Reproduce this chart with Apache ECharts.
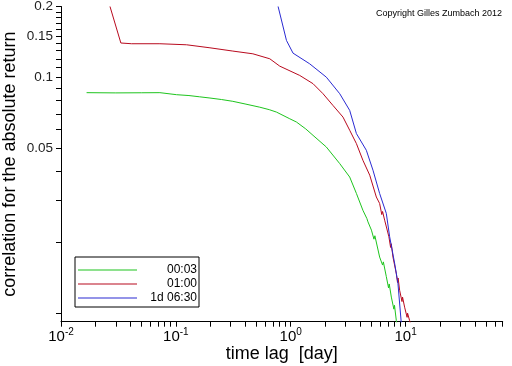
<!DOCTYPE html>
<html>
<head>
<meta charset="utf-8">
<script src="https://cdn.jsdelivr.net/npm/echarts@6/dist/echarts.min.js"></script>
<style>html,body{margin:0;padding:0;background:#fff;}#c{width:512px;height:366px;}</style>
</head>
<body>
<div id="c"></div>
<script>
// ---- data ----
const seriesNames = ['00:03', '01:00', '1d 06:30'];
const green = [
  [0.0167, 0.0862], [0.03, 0.0860], [0.05, 0.0861], [0.0726, 0.0862], [0.1014, 0.0845],
  [0.13, 0.0838], [0.16, 0.0828], [0.198, 0.0818], [0.25, 0.0806], [0.313, 0.0792],
  [0.4, 0.0772], [0.537, 0.0748], [0.65, 0.0730], [0.751, 0.0713], [0.98, 0.0668],
  [1.121, 0.0647], [1.35, 0.0605], [1.563, 0.0568], [2.04, 0.0507], [2.67, 0.0431],
  [3.26, 0.0378], [3.73, 0.0322], [4.25, 0.0273], [4.6, 0.0252], [4.7, 0.0244], [5.04, 0.0225],
  [5.3, 0.0206], [5.4, 0.0213], [5.94, 0.0173], [6.3, 0.0160], [6.4, 0.0165], [6.79, 0.0143],
  [7.1, 0.0128], [7.2, 0.0133], [7.51, 0.0117], [7.9, 0.0104], [8.0, 0.0108], [8.30, 0.0093], [8.6, 0.0085]
];
const red = [
  [0.0267, 0.2], [0.0332, 0.140], [0.0412, 0.139], [0.0726, 0.139], [0.124, 0.1376],
  [0.198, 0.1336], [0.313, 0.1294], [0.468, 0.126], [0.657, 0.120], [0.802, 0.1117],
  [1.197, 0.102], [1.563, 0.0941], [1.91, 0.0853], [2.33, 0.0761], [2.85, 0.0679],
  [3.26, 0.0597], [3.73, 0.0524], [4.25, 0.0445], [4.87, 0.0385], [5.56, 0.0311],
  [5.94, 0.0292], [6.2, 0.0262], [6.3, 0.0270], [6.57, 0.0248], [7.15, 0.0211], [7.4, 0.0190],
  [7.5, 0.0197], [7.76, 0.0173], [8.30, 0.0147], [8.5, 0.0135], [8.6, 0.0141], [8.87, 0.0125],
  [9.3, 0.0112], [9.4, 0.0117], [9.80, 0.0106], [10.3, 0.0096], [10.4, 0.0100], [10.83, 0.0093], [11.2, 0.0088]
];
const blue = [
  [0.776, 0.2], [0.918, 0.1435], [1.047, 0.1268], [1.46, 0.1143], [2.04, 0.1003],
  [2.67, 0.0853], [3.26, 0.0725], [3.73, 0.0578], [4.55, 0.0491], [5.20, 0.0404],
  [5.94, 0.0322], [6.79, 0.0265], [7.26, 0.0211], [8.02, 0.0163], [8.57, 0.0134], [9.18, 0.0090]
];
const xMajorTicks = [0.01, 0.1, 1, 10];
const xTickExponents = ['-2', '-1', '0', '1'];
const xMinorTicks = [0.02,0.03,0.04,0.05,0.06,0.07,0.08,0.09, 0.2,0.3,0.4,0.5,0.6,0.7,0.8,0.9, 2,3,4,5,6,7,8,9, 20,30,40,50,60,70];
const yMajorTicks = [0.05, 0.1, 0.15, 0.2];
const yTickLabels = ['0.05', '0.1', '0.15', '0.2'];
const yMinorTicks = [0.01,0.02,0.03,0.04, 0.06,0.07,0.08,0.09, 0.11,0.12,0.13,0.14, 0.16,0.17,0.18,0.19];
const colors = ['#1ec41e', '#b80a1e', '#2a2ad2'];

const FONT = '"Liberation Sans", Arial, sans-serif';
const xMin = 0.01, xMax = 70, yMin = 0.0092, yMax = 0.2;

const chart = echarts.init(document.getElementById('c'), null, {renderer: 'canvas'});
chart.setOption({
  animation: false,
  backgroundColor: '#fff',
  color: colors,
  title: {
    text: 'Copyright Gilles Zumbach 2012',
    right: 5, top: 4,
    textStyle: {fontSize: 9, fontWeight: 'normal', color: '#000', fontFamily: FONT}
  },
  grid: {left: 61, right: 9.3, top: 6.5, bottom: 44.3, containLabel: false, outerBoundsMode: 'none'},
  legend: {
    orient: 'vertical', left: 75, top: 257,
    itemWidth: 59, itemHeight: 1, itemGap: 2, icon: 'rect',
    padding: [7, 2, 3, 3],
    borderColor: '#000', borderWidth: 1, backgroundColor: '#fff',
    data: seriesNames,
    formatter: name => '{a|' + name + '}',
    textStyle: {fontSize: 12, color: '#000', fontFamily: FONT,
      rich: {a: {width: 55, align: 'right', fontSize: 12, fontFamily: FONT, color: '#000'}}}
  },
  xAxis: {
    type: 'log', logBase: 10, min: xMin, max: xMax, position: 'bottom',
    name: 'time lag  [day]', nameLocation: 'middle', nameGap: 23, nameMoveOverlap: false,
    nameTextStyle: {fontSize: 18, color: '#000', fontFamily: FONT},
    axisLine: {show: true, lineStyle: {color: '#000', width: 1}},
    axisTick: {show: true, length: 5, customValues: xMajorTicks.concat(xMinorTicks),
      lineStyle: {color: '#000', width: 1}},
    axisLabel: {
      customValues: xMajorTicks, margin: 6, color: '#000', fontFamily: FONT,
      formatter: v => {
        const i = xMajorTicks.findIndex(t => Math.abs(t - v) / t < 1e-6);
        return '{b|10}{s|' + (i >= 0 ? xTickExponents[i] : '') + '}';
      },
      rich: {
        b: {fontSize: 15, fontFamily: FONT, color: '#000'},
        s: {fontSize: 10, fontFamily: FONT, color: '#000', padding: [0, 0, 9, 0]}
      }
    },
    splitLine: {show: false}
  },
  yAxis: {
    type: 'log', logBase: 10, min: yMin, max: yMax, position: 'left',
    name: 'correlation for the absolute return', nameLocation: 'middle', nameGap: 41.5, nameMoveOverlap: false,
    nameTextStyle: {fontSize: 18, color: '#000', fontFamily: FONT},
    axisLine: {show: true, lineStyle: {color: '#000', width: 1}},
    axisTick: {show: true, length: 5, customValues: yMajorTicks.concat(yMinorTicks),
      lineStyle: {color: '#000', width: 1}},
    axisLabel: {
      customValues: yMajorTicks, margin: 8, fontSize: 13.5, color: '#222', fontFamily: FONT,
      formatter: v => {
        const i = yMajorTicks.findIndex(t => Math.abs(t - v) / t < 1e-6);
        return i >= 0 ? yTickLabels[i] : '';
      }
    },
    splitLine: {show: false}
  },
  series: [
    {name: seriesNames[0], type: 'line', data: green, showSymbol: false, symbol: 'none', clip: true, lineStyle: {width: 1}, z: 3},
    {name: seriesNames[1], type: 'line', data: red, showSymbol: false, symbol: 'none', clip: true, lineStyle: {width: 1}, z: 3},
    {name: seriesNames[2], type: 'line', data: blue, showSymbol: false, symbol: 'none', clip: true, lineStyle: {width: 1}, z: 3}
  ]
});
</script>
</body>
</html>
